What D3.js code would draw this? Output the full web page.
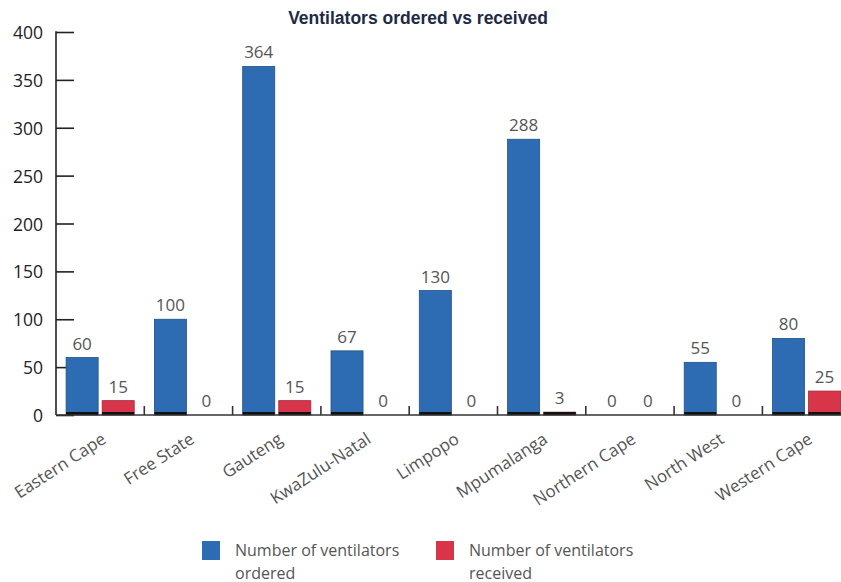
<!DOCTYPE html>
<html>
<head>
<meta charset="utf-8">
<script src="https://cdn.jsdelivr.net/npm/d3@7"></script>
<style>
  body { margin: 0; background: #fff; }
  svg { display: block; }
</style>
</head>
<body>
<div id="chart"></div>
<script>
// Data
const provinces = ["Eastern Cape", "Free State", "Gauteng", "KwaZulu-Natal", "Limpopo",
                   "Mpumalanga", "Northern Cape", "North West", "Western Cape"];
const ordered  = [60, 100, 364, 67, 130, 288, 0, 55, 80];
const received = [15, 0, 15, 0, 0, 3, 0, 0, 25];
const yTicks = [0, 50, 100, 150, 200, 250, 300, 350, 400];
const seriesNames = ["Number of ventilators ordered", "Number of ventilators received"];

const COLORS = ["#2d6cb2", "#d8354b"];
const FONT = "Open Sans, sans-serif";
const W = 841, H = 582;
const x0 = 56, y0 = 415, yTop = 32;

const svg = d3.select("#chart").append("svg")
  .attr("width", W).attr("height", H);

const x = d3.scaleBand().domain(provinces).range([x0, x0 + 9 * 88.3]);
const xs = d3.scaleBand().domain([0, 1]).range([0, x.bandwidth()])
  .paddingInner(0.111).paddingOuter(0.28);
const y = d3.scaleLinear().domain([0, 400]).range([y0, yTop]);

// Title
svg.append("text")
  .attr("x", 418).attr("y", 24)
  .attr("text-anchor", "middle")
  .attr("font-family", "Liberation Sans, Arial, sans-serif")
  .attr("font-weight", "bold").attr("font-size", 17.5)
  .attr("fill", "#1e2a46")
  .text("Ventilators ordered vs received");

// Y axis (ticks point into the plot)
const yAxis = svg.append("g")
  .attr("transform", `translate(${x0},0)`)
  .call(d3.axisRight(y).tickValues(yTicks).tickSize(18).tickFormat(""));
yAxis.select(".domain").remove();
yAxis.selectAll(".tick line").attr("stroke", "#222").attr("stroke-width", 1.6);
svg.append("line")
  .attr("x1", x0).attr("x2", x0).attr("y1", yTop - 0.8).attr("y2", y0)
  .attr("stroke", "#222").attr("stroke-width", 1.6);
svg.append("g").selectAll("text").data(yTicks).join("text")
  .attr("x", 43).attr("y", d => y(d) + 7)
  .attr("text-anchor", "end")
  .attr("font-family", FONT).attr("font-size", 17.5)
  .attr("fill", "#222")
  .text(d => d);

// Bars
const series = [ordered, received];
const groups = svg.append("g").selectAll("g").data(provinces).join("g")
  .attr("transform", d => `translate(${x(d)},0)`);

series.forEach((vals, si) => {
  groups.append("rect")
    .attr("x", xs(si)).attr("width", xs.bandwidth())
    .attr("y", (d, i) => y(vals[i]))
    .attr("height", (d, i) => y0 - y(vals[i]))
    .attr("fill", COLORS[si])
    .attr("stroke", (d, i) => vals[i] > 0 ? d3.color(COLORS[si]).darker(0.8) : "none")
    .attr("stroke-width", 0.8);
  // dark foot strip on non-zero bars
  groups.filter((d, i) => vals[i] > 0).append("rect")
    .attr("x", xs(si)).attr("width", xs.bandwidth())
    .attr("y", y0 - 3).attr("height", 3)
    .attr("fill", "#111");
  // value labels
  groups.append("text")
    .attr("x", xs(si) + xs.bandwidth() / 2)
    .attr("y", (d, i) => y(vals[i]) - 8)
    .attr("text-anchor", "middle")
    .attr("font-family", FONT).attr("font-size", 17)
    .attr("fill", "#555")
    .text((d, i) => vals[i]);
});

// Baseline and category separators
svg.append("line")
  .attr("x1", x0).attr("x2", W).attr("y1", y0).attr("y2", y0)
  .attr("stroke", "#333").attr("stroke-width", 1.6);
svg.append("g").selectAll("line").data(provinces.slice(1)).join("line")
  .attr("x1", d => x(d)).attr("x2", d => x(d))
  .attr("y1", y0 - 9).attr("y2", y0)
  .attr("stroke", "#333").attr("stroke-width", 1.6);

// X labels, rotated
svg.append("g").selectAll("text").data(provinces).join("text")
  .attr("transform", d => `translate(${x(d) + x.bandwidth() / 2 + 7},${y0 + 27}) rotate(-33)`)
  .attr("text-anchor", "end")
  .attr("font-family", FONT).attr("font-size", 17)
  .attr("fill", "#555")
  .text(d => d);

// Legend (two-line labels)
const legend = svg.append("g");
const legendX = [202, 436];
seriesNames.forEach((name, i) => {
  const g = legend.append("g").attr("transform", `translate(${legendX[i]},541)`);
  g.append("rect").attr("width", 18).attr("height", 19).attr("fill", COLORS[i]);
  const words = name.split(" ");
  const lines = [words.slice(0, 3).join(" "), words.slice(3).join(" ")];
  lines.forEach((ln, li) => {
    g.append("text")
      .attr("x", 33).attr("y", 15 + li * 22.5)
      .attr("font-family", FONT).attr("font-size", 16)
      .attr("fill", "#555")
      .text(ln);
  });
});
</script>
</body>
</html>
